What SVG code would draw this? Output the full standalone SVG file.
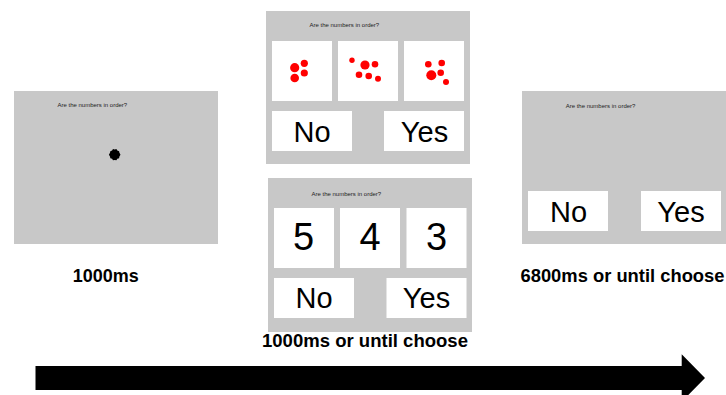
<svg xmlns="http://www.w3.org/2000/svg" width="726" height="395" viewBox="0 0 726 395">
<style>
.screen{fill:#c8c8c8}
.box{fill:#ffffff}
.q{font-family:"Liberation Sans",Arial,sans-serif;font-size:6px;fill:#222}
.btn{font-family:"Liberation Sans",Arial,sans-serif;font-size:29px;fill:#000;text-anchor:middle}
.num{font-family:"Liberation Sans",Arial,sans-serif;font-size:38px;fill:#000;text-anchor:middle}
.lbl{font-family:"Liberation Sans",Arial,sans-serif;font-size:18px;font-weight:bold;fill:#000;text-anchor:middle}
.dot{fill:#ff0000}
</style>
<rect width="726" height="395" fill="#ffffff"/>

<g id="fixation">
  <rect class="screen" x="14" y="91" width="204" height="153"/>
  <text class="q" x="57.5" y="107">Are the numbers in order?</text>
  <polygon fill="#000" points="120.5,154.7 119.4,156.6 119.1,158.2 117.3,158.8 116.4,160.3 114.7,159.9 113.0,160.3 112.1,158.8 110.3,158.2 110.0,156.6 108.9,154.7 110.0,152.8 110.3,151.2 112.1,150.6 113.0,149.1 114.7,149.5 116.4,149.1 117.3,150.6 119.1,151.2 119.4,152.8"/>
</g>

<g id="dots-trial">
  <rect class="screen" x="266" y="11" width="204" height="153"/>
  <text class="q" x="309.5" y="27">Are the numbers in order?</text>
  <rect class="box" x="272" y="41" width="60" height="60"/>
  <rect class="box" x="338" y="41" width="60" height="60"/>
  <rect class="box" x="404" y="41" width="60" height="60"/>
  <circle class="dot" cx="294.7" cy="67.7" r="4.6"/>
  <circle class="dot" cx="304.3" cy="63.3" r="3.6"/>
  <circle class="dot" cx="304.3" cy="73" r="3.6"/>
  <circle class="dot" cx="294.7" cy="78" r="4.3"/>
  <circle class="dot" cx="352" cy="60.3" r="2.7"/>
  <circle class="dot" cx="365" cy="65" r="4.6"/>
  <circle class="dot" cx="375" cy="64.3" r="3.3"/>
  <circle class="dot" cx="359" cy="74.7" r="3.3"/>
  <circle class="dot" cx="368.7" cy="76" r="3.3"/>
  <circle class="dot" cx="378" cy="78.7" r="3"/>
  <circle class="dot" cx="428.3" cy="64.3" r="3.3"/>
  <circle class="dot" cx="441.7" cy="63" r="3.3"/>
  <circle class="dot" cx="431.3" cy="75.3" r="5"/>
  <circle class="dot" cx="440.7" cy="72.7" r="3.3"/>
  <circle class="dot" cx="446" cy="82" r="3"/>
  <rect class="box" x="272" y="111" width="80" height="40"/>
  <rect class="box" x="384" y="111" width="80" height="40"/>
  <text class="btn" x="312" y="141.5">No</text>
  <text class="btn" x="424.5" y="141.5">Yes</text>
</g>

<g id="digits-trial">
  <rect class="screen" x="268" y="178" width="204" height="154"/>
  <text class="q" x="311.5" y="195.5">Are the numbers in order?</text>
  <rect class="box" x="274" y="208" width="60" height="60"/>
  <rect class="box" x="340" y="208" width="60" height="60"/>
  <rect class="box" x="406.5" y="208" width="60" height="60"/>
  <text class="num" x="303.5" y="250">5</text>
  <text class="num" x="370" y="250">4</text>
  <text class="num" x="436.5" y="250">3</text>
  <rect class="box" x="274" y="278" width="80" height="40"/>
  <rect class="box" x="386.5" y="278" width="80" height="40"/>
  <text class="btn" x="314" y="308">No</text>
  <text class="btn" x="426.5" y="308">Yes</text>
</g>

<g id="response">
  <rect class="screen" x="522" y="91" width="204" height="153"/>
  <text class="q" x="565.7" y="108">Are the numbers in order?</text>
  <rect class="box" x="528" y="191" width="80" height="40"/>
  <rect class="box" x="641" y="191" width="80" height="40"/>
  <text class="btn" x="568.5" y="221.5">No</text>
  <text class="btn" x="681" y="221.5">Yes</text>
</g>

<g id="labels">
  <text class="lbl" x="105.7" y="281.5" textLength="66" lengthAdjust="spacingAndGlyphs">1000ms</text>
  <text class="lbl" x="622.5" y="281.5" textLength="204" lengthAdjust="spacingAndGlyphs">6800ms or until choose</text>
  <text class="lbl" x="365" y="347" textLength="206" lengthAdjust="spacingAndGlyphs">1000ms or until choose</text>
</g>

<g id="connectors">
  <polygon fill="#000" points="35.5,366 681.7,366 681.7,354.3 705,378 681.7,401.7 681.7,390 35.5,390"/>
</g>
</svg>
